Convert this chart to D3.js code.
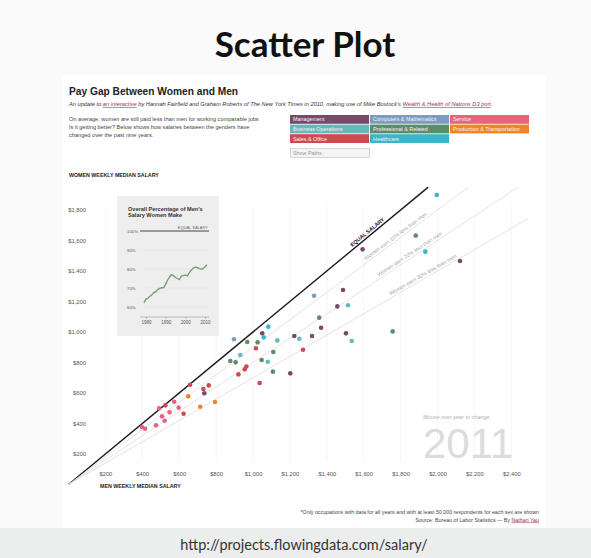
<!DOCTYPE html>
<html><head><meta charset="utf-8">
<script src="https://cdn.jsdelivr.net/npm/d3@7"></script>
<style>
html,body{margin:0;padding:0;background:#fafafa;}
svg{display:block;}
text{font-family:"Liberation Sans",Arial,sans-serif;}
</style></head>
<body>
<script>
// ---------- DATA ----------
const categories = ["Management","Computers & Mathematics","Service","Business Operations","Professional & Related","Production & Transportation","Sales & Office","Healthcare"];
const categoryColors = ["#774a6b","#7c9cc0","#e9637d","#65b9b8","#5d8c6a","#f1842b","#d0494f","#38b6cc"];
const legendOrder = [["Management","Computers & Mathematics","Service"],["Business Operations","Professional & Related","Production & Transportation"],["Sales & Office","Healthcare"]];
// men weekly median salary, women weekly median salary (2011)
const management = [[1050,991],[1224,974],[1202,729],[736,598],[1594,1542],[2122,1466],[1488,1275],[1457,1168],[1369,1028],[1320,974],[1504,991]];
const computers = [[897,952],[1331,1238]];
const service = [[573,543],[491,500],[597,504],[548,473],[507,447],[521,418],[474,388],[398,377],[415,366]];
const business = [[1132,945],[931,849],[1080,805],[1251,956],[1515,1175],[1535,941]];
const professional = [[969,934],[1025,932],[877,810],[906,801],[1047,816],[1110,869],[1108,740],[1882,1632],[1359,1094],[1757,1004]];
const production = [[649,578],[714,510],[794,541]];
const sales = [[1016,893],[1271,884],[1036,666],[964,773],[955,755],[921,722],[659,654],[731,626],[760,650],[525,519],[624,464]];
const healthcare = [[1083,1035],[1058,965],[1996,1898],[1934,1527]];
const seriesByCategory = [management,computers,service,business,professional,production,sales,healthcare];

const xTicks = [200,400,600,800,1000,1200,1400,1600,1800,2000,2200,2400];
const yTicks = [200,400,600,800,1000,1200,1400,1600,1800];
const ratioLines = [1,0.9,0.8,0.7];
const ratioLabels = ["EQUAL SALARY","Women earn 10% less than men","Women earn 20% less than men","Women earn 30% less than men"];
const ratioLabelAt = [1634,1786,1862,1932];

const insetYears = [1979,1980,1981,1982,1983,1984,1985,1986,1987,1988,1989,1990,1991,1992,1993,1994,1995,1996,1997,1998,1999,2000,2001,2002,2003,2004,2005,2006,2007,2008,2009,2010,2011];
const insetPct = [62.3,64.2,64.6,65.7,66.5,67.6,68.1,69.2,69.8,70.2,70.1,71.9,74.2,75.8,77.1,76.4,75.5,75.0,74.4,76.3,76.5,76.9,76.4,77.9,79.4,80.4,81.0,80.8,80.2,79.9,80.2,81.2,82.2];
const insetYTicks = [100,90,80,70,60];
const insetXTicks = [1980,1990,2000,2010];

// ---------- DRAW ----------
const W=591,H=558;
const svg=d3.select("body").append("svg").attr("width",W).attr("height",H);
svg.append("rect").attr("width",W).attr("height",H).attr("fill","#fafafa");
svg.append("rect").attr("x",0).attr("y",528).attr("width",W).attr("height",30).attr("fill","#eceeed");
svg.append("rect").attr("x",62).attr("y",75).attr("width",484).attr("height",453).attr("fill","#ffffff");

svg.append("text").attr("x",305).attr("y",57).attr("text-anchor","middle")
  .style("font-family","Lato, 'Open Sans', sans-serif").style("font-size","35px").style("font-weight","bold").attr("fill","#111").text("Scatter Plot");
svg.append("text").attr("x",304).attr("y",550).attr("text-anchor","middle")
  .style("font-family","Lato, 'Open Sans', sans-serif").style("font-size","14.5px").attr("fill","#333").text("http://projects.flowingdata.com/salary/");

// header
svg.append("text").attr("x",69).attr("y",95).style("font-size","10.2px").style("font-weight","bold").attr("fill","#222").text("Pay Gap Between Women and Men");
const sub=svg.append("text").attr("x",69).attr("y",106).style("font-size","5.7px").style("font-style","italic").attr("fill","#333");
sub.append("tspan").text("An update to ");
sub.append("tspan").attr("fill","#a0304a").style("text-decoration","underline").text("an interactive");
sub.append("tspan").text(" by Hannah Fairfield and Graham Roberts of The New York Times in 2010, making use of Mike Bostock's ");
sub.append("tspan").attr("fill","#a0304a").style("text-decoration","underline").text("Wealth & Health of Nations D3 port");
sub.append("tspan").text(".");
["On average, women are still paid less than men for working comparable jobs","Is it getting better? Below shows how salaries between the genders have","changed over the past nine years."]
 .forEach((t,i)=>svg.append("text").attr("x",69).attr("y",120.5+i*8.3).style("font-size","5.6px").attr("fill","#444").text(t));

// legend
const colorOf=d3.scaleOrdinal().domain(categories).range(categoryColors);
legendOrder.forEach((row,ri)=>row.forEach((c,ci)=>{
  const g=svg.append("g").attr("transform",`translate(${290+ci*80},${115+ri*9.6})`);
  g.append("rect").attr("width",79).attr("height",8.8).attr("fill",colorOf(c));
  g.append("text").attr("x",3).attr("y",6.4).style("font-size","5.4px").attr("fill","#f4f4f4").text(c);
}));
svg.append("rect").attr("x",290.5).attr("y",148.5).attr("width",79).attr("height",9).attr("fill","#f4f4f4").attr("stroke","#bbb").attr("stroke-width",0.6);
svg.append("text").attr("x",293).attr("y",155).style("font-size","5.4px").attr("fill","#999").text("Show Paths");

// scales
const x=d3.scaleLinear().domain([0,2400]).range([68.5,511.3]);
const y=d3.scaleLinear().domain([0,1800]).range([484.5,210]);

// faint grid
svg.append("g").selectAll("line").data(xTicks).join("line")
  .attr("x1",d=>x(d)).attr("x2",d=>x(d)).attr("y1",205).attr("y2",462).attr("stroke","#f6f6f6").attr("stroke-width",1);

// axes
const yAxis=svg.append("g").attr("transform","translate(88,0)")
  .call(d3.axisLeft(y).tickValues(yTicks).tickSize(0).tickPadding(2).tickFormat(d=>"$"+d3.format(",")(d)));
yAxis.select(".domain").remove();
yAxis.selectAll("text").style("font-size","5.8px").attr("fill","#555").style("font-family","'Liberation Sans',Arial,sans-serif");
const xAxis=svg.append("g").attr("transform","translate(0,470)")
  .call(d3.axisBottom(x).tickValues(xTicks).tickSize(0).tickPadding(2).tickFormat(d=>"$"+d3.format(",")(d)));
xAxis.select(".domain").remove();
xAxis.selectAll("text").style("font-size","5.8px").attr("fill","#555").style("font-family","'Liberation Sans',Arial,sans-serif");

svg.append("text").attr("x",69).attr("y",176.7).style("font-size","5.3px").style("font-weight","bold").attr("fill","#222").text("WOMEN WEEKLY MEDIAN SALARY");
svg.append("text").attr("x",100).attr("y",487.7).style("font-size","5.3px").style("font-weight","bold").attr("fill","#222").text("MEN WEEKLY MEDIAN SALARY");

// ratio lines
const lineGen=d3.line().x(d=>x(d[0])).y(d=>y(d[1]));
ratioLines.forEach((r,i)=>{
  const xEnd=Math.min(1950/r,2490);
  svg.append("path").attr("d",lineGen([[0,0],[xEnd,xEnd*r]])).attr("fill","none")
    .attr("stroke",i===0?"#1a1a1a":"#dedada").attr("stroke-width",i===0?1.4:0.8);
});
// scatter
const pts=[];
seriesByCategory.forEach((arr,i)=>arr.forEach(p=>pts.push({c:categories[i],m:p[0],w:p[1]})));
svg.append("g").selectAll("circle").data(pts).join("circle")
  .attr("cx",d=>x(d.m)).attr("cy",d=>y(d.w)).attr("r",2.3).attr("fill",d=>colorOf(d.c));

// labels on lines
ratioLines.forEach((r,i)=>{
  const vx=ratioLabelAt[i];
  const px=x(vx),py=y(vx*r);
  const ang=Math.atan2(y(vx*r)-y(0),x(vx)-x(0))*180/Math.PI;
  svg.append("text").attr("transform",`translate(${px},${py}) rotate(${ang})`).attr("y",-2.3)
    .attr("text-anchor","middle").style("font-size",i===0?"5.4px":"5.3px").style("font-weight",i===0?"bold":"normal")
    .attr("fill",i===0?"#222":"#a9a9a9").text(ratioLabels[i]);
});

// year
svg.append("text").attr("x",423).attr("y",418.5).style("font-size","5.5px").style("font-style","italic").attr("fill","#b0b0b0").text("Mouse over year to change");
svg.append("text").attr("x",423).attr("y",458).style("font-size","42px").attr("fill","#dcdcdc").text("2011");

// inset
svg.append("rect").attr("x",117).attr("y",196).attr("width",102).attr("height",140).attr("fill","#eeeeee");
svg.append("text").attr("x",128).attr("y",210.6).style("font-size","5.6px").style("font-weight","bold").attr("fill","#333").text("Overall Percentage of Men's");
svg.append("text").attr("x",128).attr("y",217.4).style("font-size","5.6px").style("font-weight","bold").attr("fill","#333").text("Salary Women Make");
const ix=d3.scaleLinear().domain([1980,2010]).range([146,205]);
const iy=d3.scaleLinear().domain([60,100]).range([307,231]);
svg.append("g").selectAll("line").data(insetYTicks.slice(1)).join("line")
  .attr("x1",140).attr("x2",209).attr("y1",d=>iy(d)).attr("y2",d=>iy(d)).attr("stroke","#e4e4e4").attr("stroke-width",0.6);
svg.append("line").attr("x1",140).attr("x2",209).attr("y1",iy(100)).attr("y2",iy(100)).attr("stroke","#444").attr("stroke-width",1.2);
svg.append("text").attr("x",208).attr("y",iy(100)-2.5).attr("text-anchor","end").style("font-size","4px").attr("fill","#666").text("EQUAL SALARY");
svg.append("g").selectAll("text").data(insetYTicks).join("text")
  .attr("x",127).attr("y",d=>iy(d)+1.5).style("font-size","4.3px").attr("fill","#555").text(d=>d+"%");
const iax=svg.append("g").attr("transform","translate(0,317)")
  .call(d3.axisBottom(ix).tickValues(insetXTicks).tickFormat(d3.format("d")).tickSize(2).tickPadding(2).tickSizeOuter(0));
iax.select(".domain").attr("d","M140,0H209").attr("stroke","#999").attr("stroke-width",0.6);
iax.selectAll(".tick line").attr("stroke","#999").attr("stroke-width",0.6);
iax.selectAll("text").style("font-size","4.5px").attr("fill","#555").style("font-family","'Liberation Sans',Arial,sans-serif");
svg.append("path").attr("d",d3.line().x((d,i)=>ix(insetYears[i])).y(d=>iy(d))(insetPct))
  .attr("fill","none").attr("stroke","#6a9c76").attr("stroke-width",1.3);

// footnote
svg.append("text").attr("x",539).attr("y",514).attr("text-anchor","end").style("font-size","5.3px").attr("fill","#444")
  .text("*Only occupations with data for all years and with at least 50,000 respondents for each sex are shown");
const src=svg.append("text").attr("x",539).attr("y",521.5).attr("text-anchor","end").style("font-size","5.3px").attr("fill","#444");
src.append("tspan").text("Source: Bureau of Labor Statistics — By ");
src.append("tspan").attr("fill","#a0304a").style("text-decoration","underline").text("Nathan Yau");
</script>
</body></html>
